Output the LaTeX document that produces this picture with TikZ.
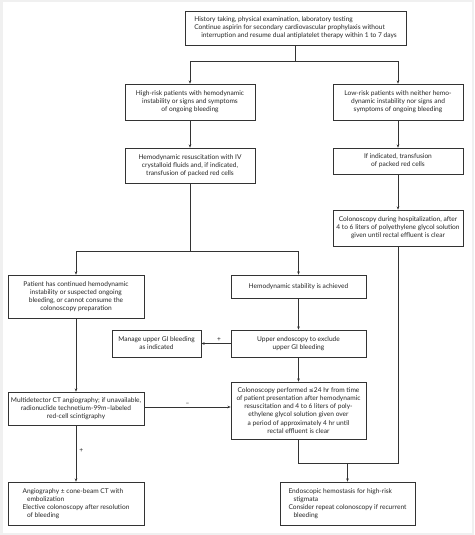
\documentclass[tikz,border=0pt]{standalone}
\usepackage{fontspec}
\setmainfont{Lato}
\newfontfamily\symfont{DejaVu Sans}
\usetikzlibrary{arrows.meta,positioning}
\tikzset{
  box/.style={draw=black!80, line width=0.7pt, rectangle, inner sep=0pt, align=center,
    font=\fontsize{6.6}{8.1}\selectfont, text=black!85},
  conn/.style={draw=black!80, line width=0.6pt},
  arr/.style={conn, -{Stealth[length=3.2pt,width=2.6pt]}},
  lbl/.style={font=\fontsize{6.6}{7}\selectfont, text=black!85, inner sep=1pt}
}
\begin{document}
\begin{tikzpicture}[x=1pt,y=-1pt]
\useasboundingbox (0,0) rectangle (474,535);
\fill[gray!12] (0,0) rectangle (474,535);
\fill[white] (2.5,2.5) rectangle (471.5,532.5);
% nodes
\node[box, minimum width=221pt, minimum height=34pt, align=left] (top) at (295.5,28)
 {History taking, physical examination, laboratory testing\\Continue aspirin for secondary cardiovascular prophylaxis without\\\hspace*{7pt}interruption and resume dual antiplatelet therapy within 1 to 7 days};
\node[box, minimum width=130pt, minimum height=36pt] (high) at (190,102)
 {High-risk patients with hemodynamic\\instability or signs and symptoms\\of ongoing bleeding};
\node[box, minimum width=130pt, minimum height=36pt] (low) at (398,102)
 {Low-risk patients with neither hemo-\\dynamic instability nor signs and\\symptoms of ongoing bleeding};
\node[box, minimum width=130pt, minimum height=35pt] (resus) at (190,165.5)
 {Hemodynamic resuscitation with IV\\crystalloid fluids and, if indicated,\\transfusion of packed red cells};
\node[box, minimum width=130pt, minimum height=26pt] (ifind) at (398,161)
 {If indicated, transfusion\\of packed red cells};
\node[box, minimum width=130pt, minimum height=36pt] (colhosp) at (398,228)
 {Colonoscopy during hospitalization, after\\4 to 6 liters of polyethylene glycol solution\\given until rectal effluent is clear};
\node[box, minimum width=136pt, minimum height=43pt] (patient) at (76,296.5)
 {Patient has continued hemodynamic\\instability or suspected ongoing\\bleeding, or cannot consume the\\colonoscopy preparation};
\node[box, minimum width=135pt, minimum height=23pt] (stab) at (298.5,286.5)
 {Hemodynamic stability is achieved};
\node[box, minimum width=89pt, minimum height=27pt] (manage) at (156.5,343.5)
 {Manage upper GI bleeding\\as indicated};
\node[box, minimum width=135pt, minimum height=27pt] (upper) at (298.5,343.5)
 {Upper endoscopy to exclude\\upper GI bleeding};
\node[box, minimum width=136pt, minimum height=33pt] (ct) at (76,408.5)
 {Multidetector CT angiography; if unavailable,\\radionuclide technetium-99m--labeled\\red-cell scintigraphy};
\node[box, minimum width=135pt, minimum height=57pt] (colperf) at (298.5,410.5)
 {Colonoscopy performed {\symfont\fontsize{5.9}{8.1}\selectfont ≤}24 hr from time\\of patient presentation after hemodynamic\\resuscitation and 4 to 6 liters of poly-\\ethylene glycol solution given over\\a period of approximately 4 hr until\\rectal effluent is clear};
\node[box, minimum width=136pt, minimum height=43pt, align=left] (angio) at (76,503.5)
 {Angiography ± cone-beam CT with\\\hspace*{4.5pt}embolization\\Elective colonoscopy after resolution\\\hspace*{4.5pt}of bleeding};
\node[box, minimum width=135pt, minimum height=43pt, align=left] (hemost) at (347.5,503.5)
 {Endoscopic hemostasis for high-risk\\\hspace*{5pt}stigmata\\Consider repeat colonoscopy if recurrent\\\hspace*{5pt}bleeding};
% connectors
\coordinate (s1) at (295.5,61);
\draw[conn] (top.south) -- (s1);
\draw[arr] (s1) -| (high.north);
\draw[arr] (s1) -| (low.north);
\draw[arr] (high) -- (resus);
\draw[arr] (low) -- (ifind);
\draw[arr] (ifind) -- (colhosp);
\coordinate (s2) at (190,251);
\draw[conn] (resus.south) -- (s2);
\draw[arr] (s2) -| (patient.north);
\draw[arr] (s2) -| (stab.north);
\draw[arr] (stab) -- (upper);
\draw[arr] (upper) -- node[lbl, above=0.5pt, pos=0.4] {+} (manage);
\draw[arr] (upper) -- (colperf);
\draw[arr] (patient) -- (ct);
\draw[arr] (ct.east |- 0,407) -- node[lbl, above=0.5pt, pos=0.5] {--} (colperf.west |- 0,407);
\draw[arr] (ct) -- node[lbl, right=2pt, pos=0.45] {+} (angio);
\coordinate (s3) at (298.5,463);
\coordinate (s4) at (398,463);
\draw[conn] (colperf.south) -- (s3) -- (s4) -- (colhosp.south);
\draw[arr] (hemost.north |- s3) -- (hemost.north);
\end{tikzpicture}
\end{document}
